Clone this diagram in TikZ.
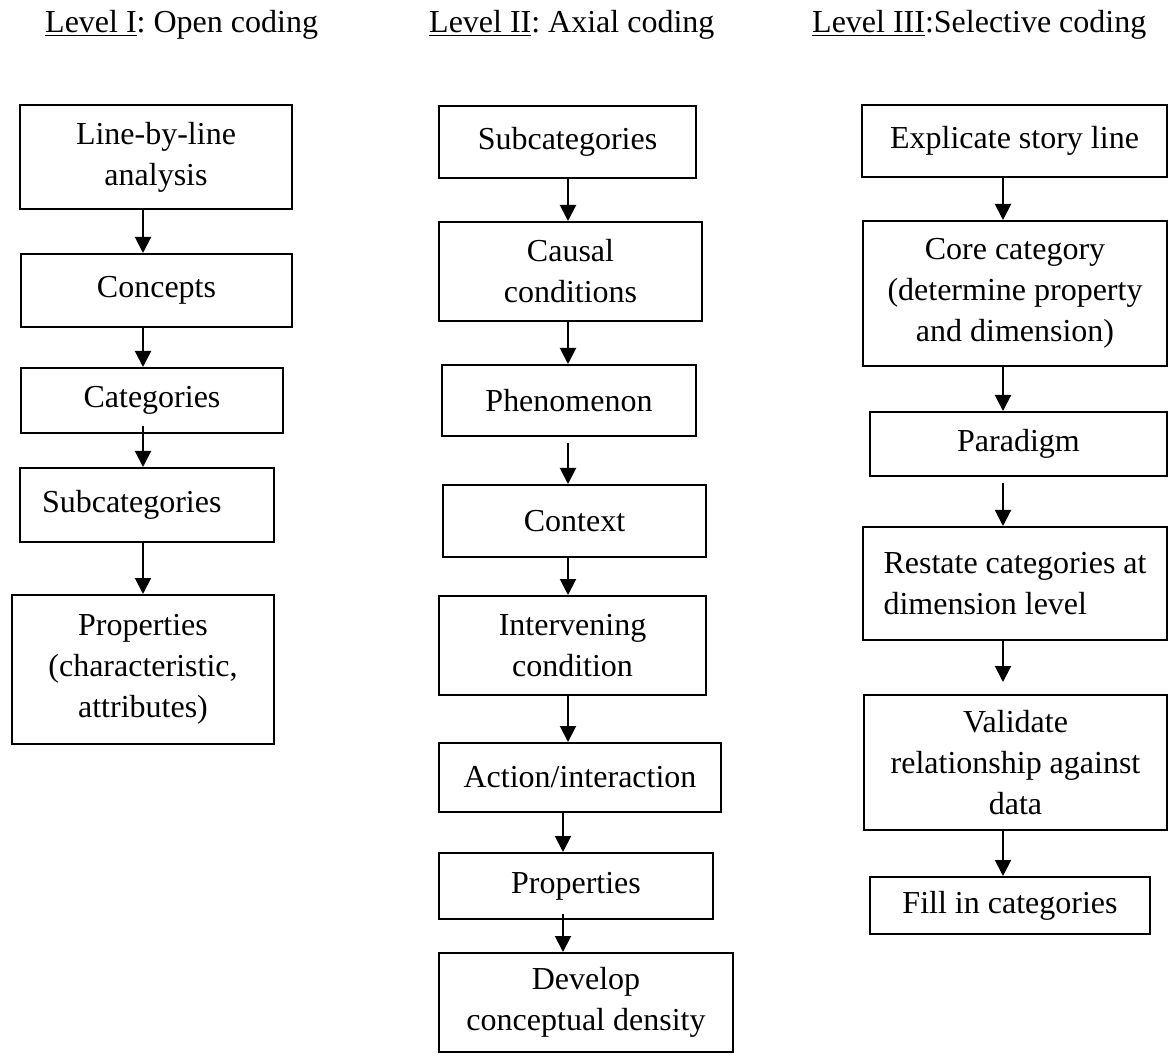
\documentclass[tikz,border=0pt]{standalone}
\usepackage{fontspec}
\setmainfont{Liberation Serif}
\frenchspacing
\usetikzlibrary{positioning,arrows.meta}
\tikzset{
  stagebox/.style={draw,line width=2pt,inner sep=0pt,align=center,
    font=\fontsize{32pt}{41pt}\selectfont},
  flow/.style={-{Triangle[width=16pt,length=16pt]},line width=2pt},
  level/.style={anchor=base west,inner sep=0pt,font=\fontsize{32pt}{41pt}\selectfont}
}

\begin{document}
\begin{tikzpicture}[x=1pt,y=-1pt]
\useasboundingbox (0,0) rectangle (1168,1064);

% column headings
\node[level] (lvl1) at (45,33) {\underline{Level I}: Open coding};
\node[level] (lvl2) at (429,33) {\underline{Level II}: Axial coding};
\node[level] (lvl3) at (812,33) {\underline{Level III}:Selective coding};

% arrow axes
\coordinate (ax1) at (143,0);
\coordinate (ax2) at (568,0);
\coordinate (ax2b) at (563,0);
\coordinate (ax3) at (1003,0);

% Level I
\node[stagebox,minimum width=272pt,minimum height=104pt] (open1) at (156,157) {Line-by-line\\analysis};
\node[stagebox,minimum width=271pt,minimum height=73pt] (open2) at (156.5,290.5) {Concepts};
\node[stagebox,minimum width=262pt,minimum height=65pt] (open3) at (152,400.5) {Categories};
\node[stagebox,minimum width=254pt,minimum height=74pt,align=left,inner xsep=22pt,text width=210pt] (open4) at (147,505) {Subcategories};
\node[stagebox,minimum width=262pt,minimum height=149pt] (open5) at (143,669.5) {Properties\\(characteristic,\\attributes)};

% Level II
\node[stagebox,minimum width=257pt,minimum height=72pt] (axial1) at (567.5,142) {Subcategories};
\node[stagebox,minimum width=263pt,minimum height=99pt] (axial2) at (570.5,271.5) {Causal\\conditions};
\node[stagebox,minimum width=254pt,minimum height=71pt] (axial3) at (569,400.5) {Phenomenon};
\node[stagebox,minimum width=263pt,minimum height=72pt] (axial4) at (574.5,521) {Context};
\node[stagebox,minimum width=267pt,minimum height=99pt] (axial5) at (572.5,645.5) {Intervening\\condition};
\node[stagebox,minimum width=282pt,minimum height=69pt] (axial6) at (580,777.5) {Action/interaction};
\node[stagebox,minimum width=274pt,minimum height=66pt] (axial7) at (576,886) {Properties};
\node[stagebox,minimum width=294pt,minimum height=99pt] (axial8) at (586,1002.5) {Develop\\conceptual density};

% Level III
\node[stagebox,minimum width=305pt,minimum height=72pt] (sel1) at (1014.5,141) {Explicate story line};
\node[stagebox,minimum width=304pt,minimum height=145pt] (sel2) at (1015,293.5) {Core category\\(determine property\\and dimension)};
\node[stagebox,minimum width=297pt,minimum height=64pt] (sel3) at (1018.5,444) {Paradigm};
\node[stagebox,minimum width=304pt,minimum height=113pt,align=left] (sel4) at (1015,583.5) {Restate categories at\\dimension level};
\node[stagebox,minimum width=303pt,minimum height=135pt] (sel5) at (1015.5,762.5) {Validate\\relationship against\\data};
\node[stagebox,minimum width=280pt,minimum height=57pt] (sel6) at (1010,905.5) {Fill in categories};

% connectors
\draw[flow] (open1.south -| ax1) -- (open2.north -| ax1);
\draw[flow] (open2.south -| ax1) -- (open3.north -| ax1);
\draw[flow,shorten <=-8pt] (open3.south -| ax1) -- (open4.north -| ax1);
\draw[flow] (open4.south -| ax1) -- (open5.north -| ax1);

\draw[flow] (axial1.south -| ax2) -- (axial2.north -| ax2);
\draw[flow] (axial2.south -| ax2) -- (axial3.north -| ax2);
\draw[flow,shorten <=6pt] (axial3.south -| ax2) -- (axial4.north -| ax2);
\draw[flow] (axial4.south -| ax2) -- (axial5.north -| ax2);
\draw[flow] (axial5.south -| ax2) -- (axial6.north -| ax2);
\draw[flow] (axial6.south -| ax2b) -- (axial7.north -| ax2b);
\draw[flow,shorten <=-6pt] (axial7.south -| ax2b) -- (axial8.north -| ax2b);

\draw[flow] (sel1.south -| ax3) -- (sel2.north -| ax3);
\draw[flow] (sel2.south -| ax3) -- (sel3.north -| ax3);
\draw[flow,shorten <=6pt] (sel3.south -| ax3) -- (sel4.north -| ax3);
\draw[flow,shorten >=12pt] (sel4.south -| ax3) -- (sel5.north -| ax3);
\draw[flow] (sel5.south -| ax3) -- (sel6.north -| ax3);
\end{tikzpicture}
\end{document}
